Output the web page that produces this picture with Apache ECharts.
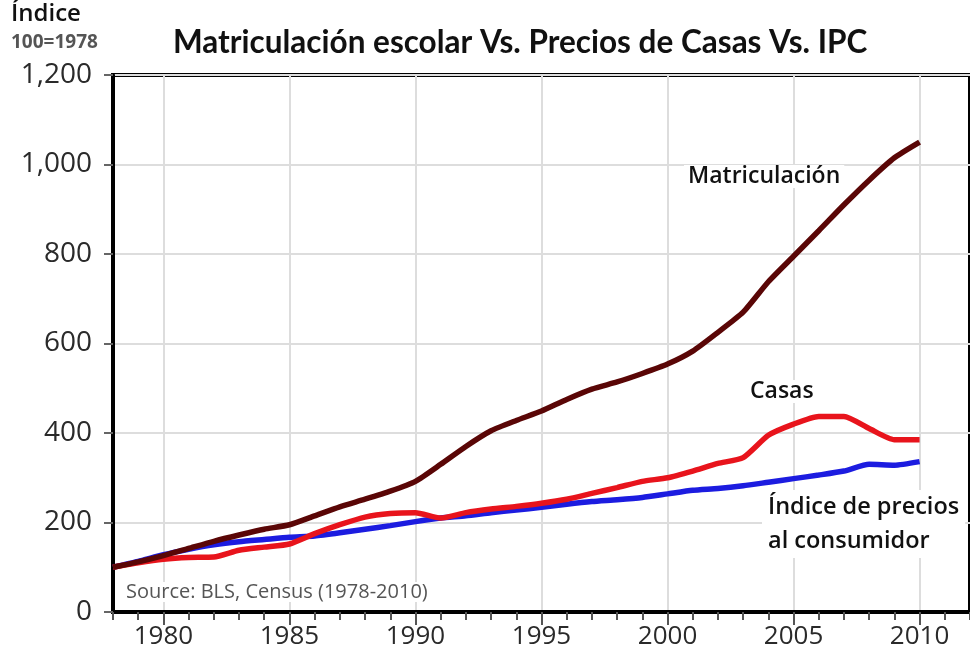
<!DOCTYPE html>
<html lang="es">
<head>
    <meta charset="UTF-8">
    <title>Matriculación escolar Vs. Precios de Casas Vs. IPC</title>
    <script src="https://cdn.jsdelivr.net/npm/echarts@6/dist/echarts.min.js"></script>
    <style>
        html, body { margin: 0; padding: 0; background: #fff; }
    </style>
</head>
<body>
    <div id="main" style="width: 970px;height:665px;"></div>
    <script type="text/javascript">
        // años del eje x (la escala sigue hasta 2012)
        var years = [];
        for (var y = 1978; y <= 2012; y++) years.push(String(y));

        // índice 100 = 1978
        var matriculacion = [100, 112, 126, 142, 158, 172, 185, 195, 215, 235, 252, 270, 292,
            330, 370, 405, 428, 449, 475, 498, 514, 533, 554, 583, 625, 670, 738, 795, 852, 910, 965, 1015, 1050];
        var casas = [100, 110, 118, 122, 123, 138, 145, 152, 175, 195, 212, 220, 222,
            210, 222, 230, 236, 243, 252, 265, 278, 292, 300, 315, 332, 345, 395, 420, 437, 437, 410, 385, 385];
        var ipc = [100, 113, 128, 140, 150, 157, 162, 167, 170, 177, 185, 193, 202,
            210, 215, 222, 228, 234, 241, 247, 251, 256, 264, 272, 276, 282, 290, 298, 306, 315, 330, 328, 336];

        var myChart = echarts.init(document.getElementById('main'));

        var font = 'Open Sans';
        var every5 = function (index, value) { return Number(value) % 5 === 0; };

        var option = {
            backgroundColor: '#fff',
            animation: false,
            title: {
                text: 'Matriculación escolar Vs. Precios de Casas Vs. IPC',
                left: 168,
                top: 22,
                textStyle: { fontFamily: 'Lato', fontSize: 31.5, fontWeight: 'bold', color: '#111' }
            },
            grid: {
                left: 113,
                right: -6,
                top: 75,
                bottom: 53,
                show: true,
                borderColor: '#000',
                borderWidth: 4
            },
            xAxis: [
                {
                    type: 'category',
                    data: years,
                    boundaryGap: false,
                    axisLine: { lineStyle: { color: '#000', width: 4 } },
                    axisTick: { interval: 0, length: 8, lineStyle: { color: '#555', width: 2 } },
                    axisLabel: {
                        interval: every5,
                        margin: 12,
                        fontFamily: font,
                        fontSize: 26,
                        color: '#2a2a2a'
                    },
                    splitLine: { show: true, interval: every5, lineStyle: { color: '#ddd', width: 2 } }
                },
                {
                    // marcas largas cada 5 años
                    type: 'category',
                    data: years,
                    boundaryGap: false,
                    position: 'bottom',
                    axisLine: { show: false },
                    axisTick: { interval: every5, length: 13, lineStyle: { color: '#555', width: 2 } },
                    axisLabel: { show: false },
                    splitLine: { show: false }
                }
            ],
            yAxis: {
                type: 'value',
                min: 0,
                max: 1200,
                interval: 200,
                axisLine: { show: true, lineStyle: { color: '#000', width: 4 } },
                axisTick: { show: true, length: 9, lineStyle: { color: '#666', width: 2 } },
                axisLabel: {
                    margin: 21,
                    fontFamily: font,
                    fontSize: 28,
                    color: '#2a2a2a',
                    formatter: function (v) { return v.toLocaleString('en-US'); }
                },
                splitLine: { lineStyle: { color: '#ddd', width: 2 } }
            },
            series: [
                {
                    name: 'Índice de precios al consumidor',
                    type: 'line',
                    data: ipc,
                    smooth: 0.2,
                    symbol: 'none',
                    lineStyle: { color: '#1c1ce0', width: 5.5 },
                    z: 3
                },
                {
                    name: 'Casas',
                    type: 'line',
                    data: casas,
                    smooth: 0.2,
                    symbol: 'none',
                    lineStyle: { color: '#e8141c', width: 5.5 },
                    z: 4
                },
                {
                    name: 'Matriculación',
                    type: 'line',
                    data: matriculacion,
                    smooth: 0.2,
                    symbol: 'none',
                    lineStyle: { color: '#5a0606', width: 5.5 },
                    z: 5
                }
            ],
            graphic: [
                {
                    type: 'text', left: 11, top: 2, z: 10,
                    style: { text: 'Índice', fontFamily: font, fontSize: 24, fontWeight: 600, fill: '#111' }
                },
                {
                    type: 'text', left: 11, top: 33, z: 10,
                    style: { text: '100=1978', fontFamily: font, fontSize: 19, fontWeight: 'bold', fill: '#555' }
                },
                {
                    type: 'text', left: 684, top: 165, z: 10,
                    style: {
                        text: 'Matriculación', fontFamily: font, fontSize: 23, fontWeight: 600, fill: '#111',
                        backgroundColor: '#fff', padding: [0, 4]
                    }
                },
                {
                    type: 'text', left: 746, top: 380, z: 10,
                    style: {
                        text: 'Casas', fontFamily: font, fontSize: 23, fontWeight: 600, fill: '#111',
                        backgroundColor: '#fff', padding: [0, 4]
                    }
                },
                {
                    type: 'text', left: 762, top: 490, z: 10,
                    style: {
                        text: 'Índice de precios\nal consumidor', fontFamily: font, fontSize: 23.5, fontWeight: 600,
                        fill: '#111', lineHeight: 34, backgroundColor: '#fff', padding: [0, 6]
                    }
                },
                {
                    type: 'text', left: 123, top: 582, z: 10,
                    style: {
                        text: 'Source: BLS, Census (1978-2010)', fontFamily: font, fontSize: 20, fill: '#555',
                        backgroundColor: '#fff', padding: [0, 3]
                    }
                }
            ]
        };

        myChart.setOption(option);
    </script>
</body>
</html>
